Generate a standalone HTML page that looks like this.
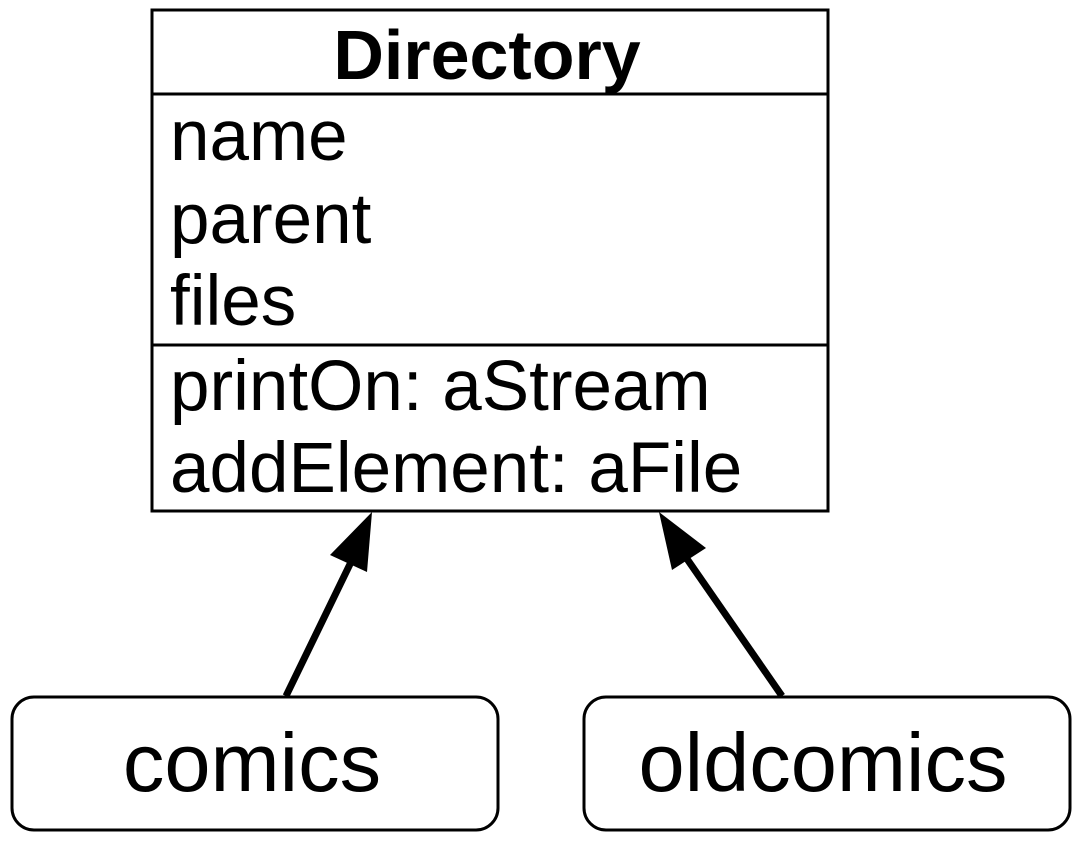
<!DOCTYPE html>
<html><head><style>html,body{margin:0;padding:0;background:#fff}</style></head><body>
<svg width="1079" height="837" viewBox="0 0 1079 837" xmlns="http://www.w3.org/2000/svg" font-family="Liberation Sans, Arial, sans-serif">
<rect x="152" y="10" width="676" height="501" fill="#fff" stroke="#000" stroke-width="3"/>
<line x1="152" y1="94" x2="828" y2="94" stroke="#000" stroke-width="3"/>
<line x1="152" y1="345" x2="828" y2="345" stroke="#000" stroke-width="3"/>
<text x="487" y="79" font-size="70" font-weight="bold" text-anchor="middle">Directory</text>
<g font-size="71">
<text x="170" y="160">name</text>
<text x="170" y="243">parent</text>
<text x="170" y="325">files</text>
<text x="170" y="410">printOn: aStream</text>
<text x="170" y="492">addElement: aFile</text>
</g>
<rect x="12" y="697" width="486" height="133" rx="22" fill="#fff" stroke="#000" stroke-width="3"/>
<rect x="584" y="697" width="486" height="133" rx="22" fill="#fff" stroke="#000" stroke-width="3"/>
<g font-size="83" text-anchor="middle">
<text x="252" y="791">comics</text>
<text x="823" y="791">oldcomics</text>
</g>
<line x1="286" y1="696" x2="352" y2="560" stroke="#000" stroke-width="7"/>
<polygon points="372,512 330,555 367,572" fill="#000"/>
<line x1="782" y1="696" x2="685" y2="556" stroke="#000" stroke-width="7"/>
<polygon points="659,512 672,570 706,548" fill="#000"/>
</svg>
</body></html>
